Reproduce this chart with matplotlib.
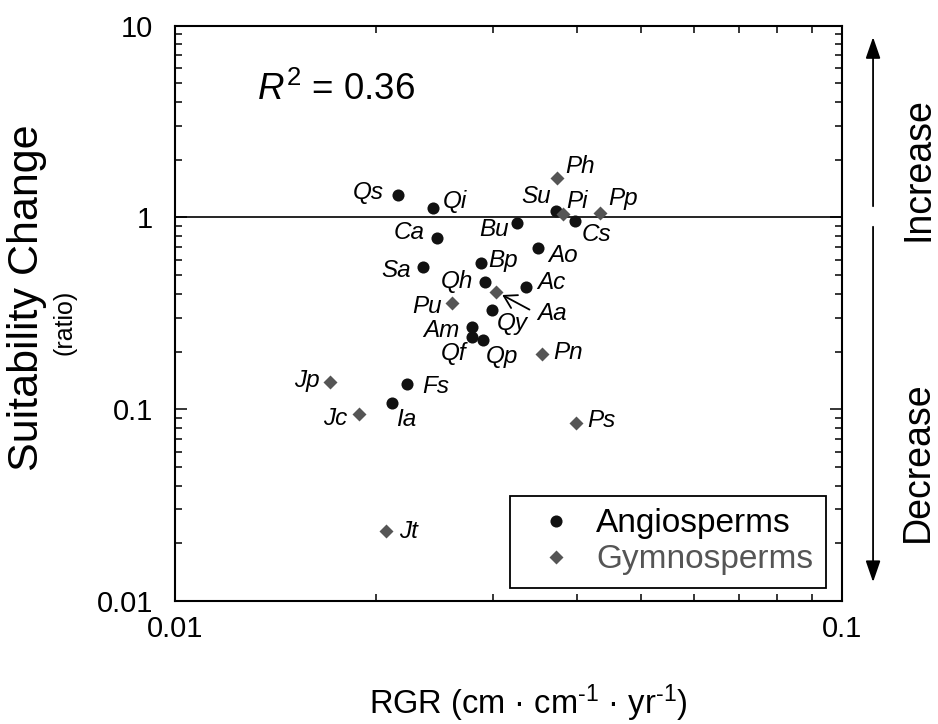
import matplotlib
matplotlib.use("Agg")
import matplotlib.pyplot as plt
from matplotlib.lines import Line2D

plt.rcParams["font.family"] = ["Liberation Sans", "DejaVu Sans"]
plt.rcParams["mathtext.fontset"] = "custom"
plt.rcParams["mathtext.rm"] = "Liberation Sans"
plt.rcParams["mathtext.it"] = "Liberation Sans:italic"

# --- data ---
angio_names = ["Qs", "Qi", "Ca", "Sa", "Bu", "Bp", "Qh", "Qy", "Am", "Qf", "Qp",
               "Ac", "Ao", "Su", "Cs", "Fs", "Ia"]
angio_rgr = [0.02158, 0.02437, 0.02469, 0.02357, 0.03251, 0.02877, 0.02917, 0.02988,
             0.02786, 0.02786, 0.02900, 0.03356, 0.03505, 0.03729, 0.03982, 0.02226, 0.02115]
angio_change = [1.310, 1.125, 0.785, 0.550, 0.940, 0.577, 0.459, 0.329,
                0.268, 0.237, 0.230, 0.433, 0.691, 1.085, 0.962, 0.135, 0.108]

gymno_names = ["Ph", "Pi", "Pp", "Aa", "Pu", "Pn", "Ps", "Jp", "Jc", "Jt"]
gymno_rgr = [0.03738, 0.03820, 0.04338, 0.03030, 0.02599, 0.03554, 0.03985,
             0.01705, 0.01886, 0.02074]
gymno_change = [1.607, 1.047, 1.052, 0.410, 0.360, 0.194, 0.0845, 0.1384, 0.0949, 0.0232]

r_squared = 0.36

# label placement: (dx, dy) in pixels, horizontal alignment
label_pos = {
    "Qs": (-14, 2, "right"), "Qi": (10, 6, "left"), "Ca": (-12, 5, "right"),
    "Sa": (-12, -3, "right"), "Bu": (-8, -7, "right"), "Bp": (7, 3, "left"),
    "Qh": (-12, 1, "right"), "Qy": (5, -13, "left"), "Am": (-12, -3, "right"),
    "Qf": (-5, -16, "right"), "Qp": (2, -17, "left"), "Ac": (11, 5, "left"),
    "Ao": (10, -7, "left"), "Su": (-5, 14, "right"), "Cs": (6, -14, "left"),
    "Fs": (15, -2, "left"), "Ia": (4, -17, "left"),
    "Ph": (8, 11, "left"), "Pi": (3, 12, "left"), "Pp": (8, 15, "left"),
    "Pu": (-10, -4, "right"), "Pn": (11, 2, "left"), "Ps": (12, 3, "left"),
    "Jp": (-10, 2, "right"), "Jc": (-12, -5, "right"), "Jt": (13, -1, "left"),
}

angio_color = "#111111"
gymno_color = "#555555"
label_size = 17.5

fig = plt.figure(figsize=(9.38, 7.24), dpi=100)
ax = fig.add_axes([0.1866, 0.1699, 0.7111, 0.7946])

ax.set_xscale("log")
ax.set_yscale("log")
ax.set_xlim(0.01, 0.1)
ax.set_ylim(0.01, 10)

ax.axhline(1, color="black", lw=1.2, zorder=1)

ax.plot(angio_rgr, angio_change, "o", ms=8.7, color=angio_color, mec="none", zorder=3)
ax.plot(gymno_rgr, gymno_change, "D", ms=7.3, color=gymno_color, mec="none", zorder=3)

for names, xs, ys in ((angio_names, angio_rgr, angio_change),
                      (gymno_names, gymno_rgr, gymno_change)):
    for n, x, y in zip(names, xs, ys):
        if n == "Aa":
            ax.annotate(n, (x, y), xytext=(41, -22), textcoords="offset pixels",
                        ha="left", va="center", fontsize=label_size, style="italic",
                        arrowprops=dict(arrowstyle="->,head_length=0.5,head_width=0.3",
                                        color="black", lw=1.3, shrinkA=4, shrinkB=5,
                                        relpos=(0, 0.5)))
            continue
        dx, dy, ha = label_pos[n]
        ax.annotate(n, (x, y), xytext=(dx, dy), textcoords="offset pixels",
                    ha=ha, va="center", fontsize=label_size, style="italic")

ax.text(0.123, 0.87, r"$R^{2}$ = %.2f" % r_squared, transform=ax.transAxes,
        fontsize=26.5, ha="left", va="baseline")

# axes styling
for s in ax.spines.values():
    s.set_linewidth(1.5)
ax.tick_params(which="both", direction="in", top=True, right=True, width=1.1)
ax.tick_params(which="major", length=8.5, labelsize=21)
ax.tick_params(which="minor", length=5)
ax.tick_params(axis="y", which="major", pad=16)
ax.tick_params(axis="x", which="major", pad=10)
ax.xaxis.set_major_formatter(matplotlib.ticker.FuncFormatter(lambda v, p: f"{v:g}"))
ax.yaxis.set_major_formatter(matplotlib.ticker.FuncFormatter(lambda v, p: f"{v:g}"))
ax.xaxis.set_minor_formatter(matplotlib.ticker.NullFormatter())

# axis titles
fig.text(528 / 938, 1 - 703 / 724, "RGR (cm \u00b7 cm$^{\\text{-}1}$ \u00b7 yr$^{\\text{-}1}$)",
         fontsize=23.5, ha="center", va="center")
fig.text(27 / 938, 1 - 298 / 724, "Suitability Change", fontsize=31,
         rotation=90, ha="center", va="center")
fig.text(65 / 938, 1 - 322 / 724, "(ratio)", fontsize=18,
         rotation=90, ha="center", va="center")

# legend
handles = [Line2D([], [], marker="o", ls="none", ms=8.7, color=angio_color, mec="none"),
           Line2D([], [], marker="D", ls="none", ms=7.3, color=gymno_color, mec="none")]
leg = ax.legend(handles, ["Angiosperms", "Gymnosperms"], loc="lower right",
                bbox_to_anchor=(0.976, 0.0226), borderaxespad=0, fontsize=24,
                frameon=True, fancybox=False, edgecolor="black", framealpha=1,
                handletextpad=0.2, labelspacing=0.15, borderpad=0.38, handlelength=2.0)
leg.get_frame().set_linewidth(1.3)
leg.get_texts()[1].set_color(gymno_color)

# increase / decrease arrows on the right
arrow_kw = dict(arrowstyle="-|>,head_length=1.3,head_width=0.45", color="black", lw=1.3)
ax.annotate("", xy=(1.0465, 0.985), xytext=(1.0465, 0.6814), xycoords="axes fraction",
            textcoords="axes fraction", arrowprops=arrow_kw, annotation_clip=False)
ax.annotate("", xy=(1.0465, 0.028), xytext=(1.0465, 0.6553), xycoords="axes fraction",
            textcoords="axes fraction", arrowprops=arrow_kw, annotation_clip=False)
ax.text(1.114, 0.75, "Increase", transform=ax.transAxes, rotation=90,
        fontsize=27, ha="center", va="center")
ax.text(1.114, 0.2416, "Decrease", transform=ax.transAxes, rotation=90,
        fontsize=27, ha="center", va="center")

fig.savefig("out.png", dpi=100)
